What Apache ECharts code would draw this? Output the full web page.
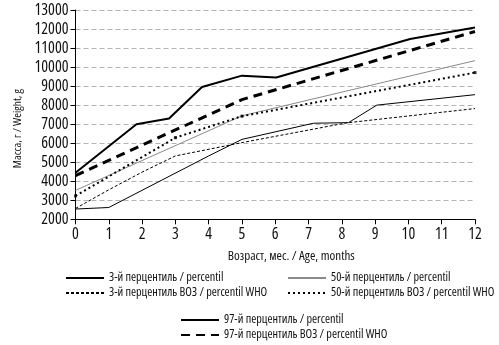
<!DOCTYPE html>
<html>
<head>
<meta charset="utf-8">
<script src="https://cdn.jsdelivr.net/npm/echarts@6/dist/echarts.min.js"></script>
<style>
  html, body { margin: 0; padding: 0; background: #fff; }
  #chart { width: 499px; height: 345px; }
</style>
</head>
<body>
<div id="chart"></div>
<script>
// Weight-for-age percentiles: study cohort vs WHO reference (age in months, weight in grams)
const p3Age = [0, 1, 4, 5, 7.15, 8.2, 9.05, 12];
const p3Weight = [2540, 2620, 5330, 6200, 7050, 7080, 8000, 8550];

const p3WhoAge = [0, 1, 2, 3, 5, 8.15, 12];
const p3WhoWeight = [2570, 3550, 4480, 5330, 6030, 7070, 7820];

const p50Age = [0, 5, 12];
const p50Weight = [3520, 7440, 10340];

const p50WhoAge = [0, 3, 5, 12];
const p50WhoWeight = [3230, 6290, 7420, 9710];

const p97Age = [0, 1.83, 2.81, 3.8, 5, 6.03, 10.05, 12];
const p97Weight = [4450, 7000, 7300, 8950, 9550, 9450, 11480, 12080];

const p97WhoAge = [0, 5, 12];
const p97WhoWeight = [4300, 8290, 11870];

const seriesNames = [
  '3-й перцентиль / percentil',
  '3-й перцентиль ВОЗ / percentil WHO',
  '50-й перцентиль / percentil',
  '50-й перцентиль ВОЗ / percentil WHO',
  '97-й перцентиль / percentil',
  '97-й перцентиль ВОЗ / percentil WHO'
];

const xName = 'Возраст, мес. / Age, months';
const yName = 'Масса, г / Weight, g';

// ---- typeface: prefer a narrow face (named family or font-stretch on a variable font)
const mctx = document.createElement('canvas').getContext('2d');
function fontString(face, size) {
  return (face.stretch ? face.stretch + ' ' : '') + size + 'px ' + face.family;
}
function textWidth(font, text) {
  mctx.font = font;
  return mctx.measureText(text).width;
}
function chooseFace() {
  const probe = 'Возраст 0123456789 percentil WHO';
  const mono = textWidth('40px monospace', probe);
  const faces = [];
  ['Liberation Sans Narrow', 'Roboto Condensed', 'Open Sans Condensed', 'Noto Sans Condensed',
   'DejaVu Sans Condensed', 'Arial Narrow'].forEach(f => {
    if (Math.abs(textWidth("40px '" + f + "', monospace", probe) - mono) > 0.5) {
      faces.push({ stretch: '', family: "'" + f + "'" });
    }
  });
  ['Open Sans', 'Roboto', 'Noto Sans', 'Liberation Sans', 'DejaVu Sans'].forEach(f => {
    const plain = textWidth("40px '" + f + "'", probe);
    ['extra-condensed', 'condensed', 'semi-condensed'].forEach(s => {
      if (textWidth(s + " 40px '" + f + "'", probe) < plain * 0.97) {
        faces.push({ stretch: s, family: "'" + f + "'" });
      }
    });
  });
  faces.push({ stretch: '', family: "'Liberation Sans'" });
  // prefer the face whose 14px axis title comes closest to 127px
  let best = null, bestErr = Infinity;
  faces.forEach(face => {
    const err = Math.abs(textWidth(fontString(face, 14), xName) - 127);
    if (err < bestErr) { bestErr = err; best = face; }
  });
  return best;
}
const FACE = chooseFace();
// size giving a string the wanted width, kept within sane bounds
function sizeFor(text, width, lo, hi) {
  const s = 20 * width / textWidth(fontString(FACE, 20), text);
  return Math.max(lo, Math.min(hi, Math.round(s * 10) / 10));
}
const XNAME_FS = sizeFor(xName, 127, 11, 16);
const YNAME_FS = sizeFor(yName, 79, 11, 16);
const TICK_FS = sizeFor('13000', 35, 11, 16);
const LEGEND_FS = sizeFor(seriesNames[1], 158, 10, 14);

function txt(size) {
  const t = { fontFamily: FACE.family, fontSize: size, color: '#111' };
  if (FACE.stretch) t.fontStyle = FACE.stretch;
  return t;
}

function pairs(xs, ys) {
  return xs.map((x, i) => [x, ys[i]]);
}

function lineSeries(name, xs, ys, color, width, type) {
  return {
    name: name,
    type: 'line',
    data: pairs(xs, ys),
    symbol: 'none',
    lineStyle: { color: color, width: width, type: type, cap: 'butt' },
    itemStyle: { color: color },
    z: 3
  };
}

const legendCommon = {
  orient: 'vertical',
  padding: 0,
  itemWidth: 38,
  itemHeight: 12,
  itemGap: 3,
  itemStyle: { opacity: 0 },
  formatter: name => '{t|' + name + '}',
  textStyle: Object.assign(txt(LEGEND_FS), { rich: { t: txt(LEGEND_FS) } }),
  selectedMode: false
};

const chart = echarts.init(document.getElementById('chart'), null, { renderer: 'canvas' });

chart.setOption({
  animation: false,
  backgroundColor: '#fff',
  grid: { left: 75.5, right: 24, top: 10, bottom: 125.7, containLabel: false, outerBoundsMode: 'none' },
  legend: [
    Object.assign({}, legendCommon, { left: 65, top: 272, data: [seriesNames[0], seriesNames[1]] }),
    Object.assign({}, legendCommon, { left: 287, top: 272, data: [seriesNames[2], seriesNames[3]] }),
    Object.assign({}, legendCommon, { left: 180, top: 314, data: [seriesNames[4], seriesNames[5]] })
  ],
  xAxis: {
    type: 'value',
    min: 0,
    max: 12,
    interval: 1,
    name: xName,
    nameLocation: 'middle',
    nameGap: 30,
    nameTextStyle: Object.assign(txt(XNAME_FS), { padding: [0, 0, 0, 32] }),
    axisLine: { show: true, onZero: false, lineStyle: { color: '#000', width: 1 } },
    axisTick: { show: true, length: 5, lineStyle: { color: '#000' } },
    axisLabel: Object.assign(txt(TICK_FS), { margin: 7, formatter: v => String(v) }),
    splitLine: { show: false }
  },
  yAxis: {
    type: 'value',
    min: 2000,
    max: 13000,
    interval: 1000,
    name: yName,
    nameLocation: 'middle',
    nameRotate: 90,
    nameGap: 42,
    nameTextStyle: Object.assign(txt(YNAME_FS), { padding: [0, 28, 0, 0] }),
    axisLine: { show: true, lineStyle: { color: '#000', width: 1 } },
    axisTick: { show: true, length: 5, lineStyle: { color: '#000' } },
    axisLabel: Object.assign(txt(TICK_FS), { margin: 7, formatter: v => String(v) }),
    splitLine: { show: true, lineStyle: { color: '#b3b3b3', width: 1, type: [5, 3] } }
  },
  series: [
    lineSeries(seriesNames[0], p3Age, p3Weight, '#000', 1, 'solid'),
    lineSeries(seriesNames[1], p3WhoAge, p3WhoWeight, '#000', 1, [3, 2]),
    lineSeries(seriesNames[2], p50Age, p50Weight, '#8a8a8a', 1, 'solid'),
    lineSeries(seriesNames[3], p50WhoAge, p50WhoWeight, '#000', 2, [2, 3]),
    lineSeries(seriesNames[4], p97Age, p97Weight, '#000', 2, 'solid'),
    lineSeries(seriesNames[5], p97WhoAge, p97WhoWeight, '#000', 3, [9, 6]),
    {
      // vertex marks on the WHO median line
      type: 'scatter',
      data: pairs(p50WhoAge, p50WhoWeight),
      symbol: 'rect',
      symbolSize: 3,
      itemStyle: { color: '#000' },
      silent: true,
      z: 4
    }
  ]
});
</script>
</body>
</html>
